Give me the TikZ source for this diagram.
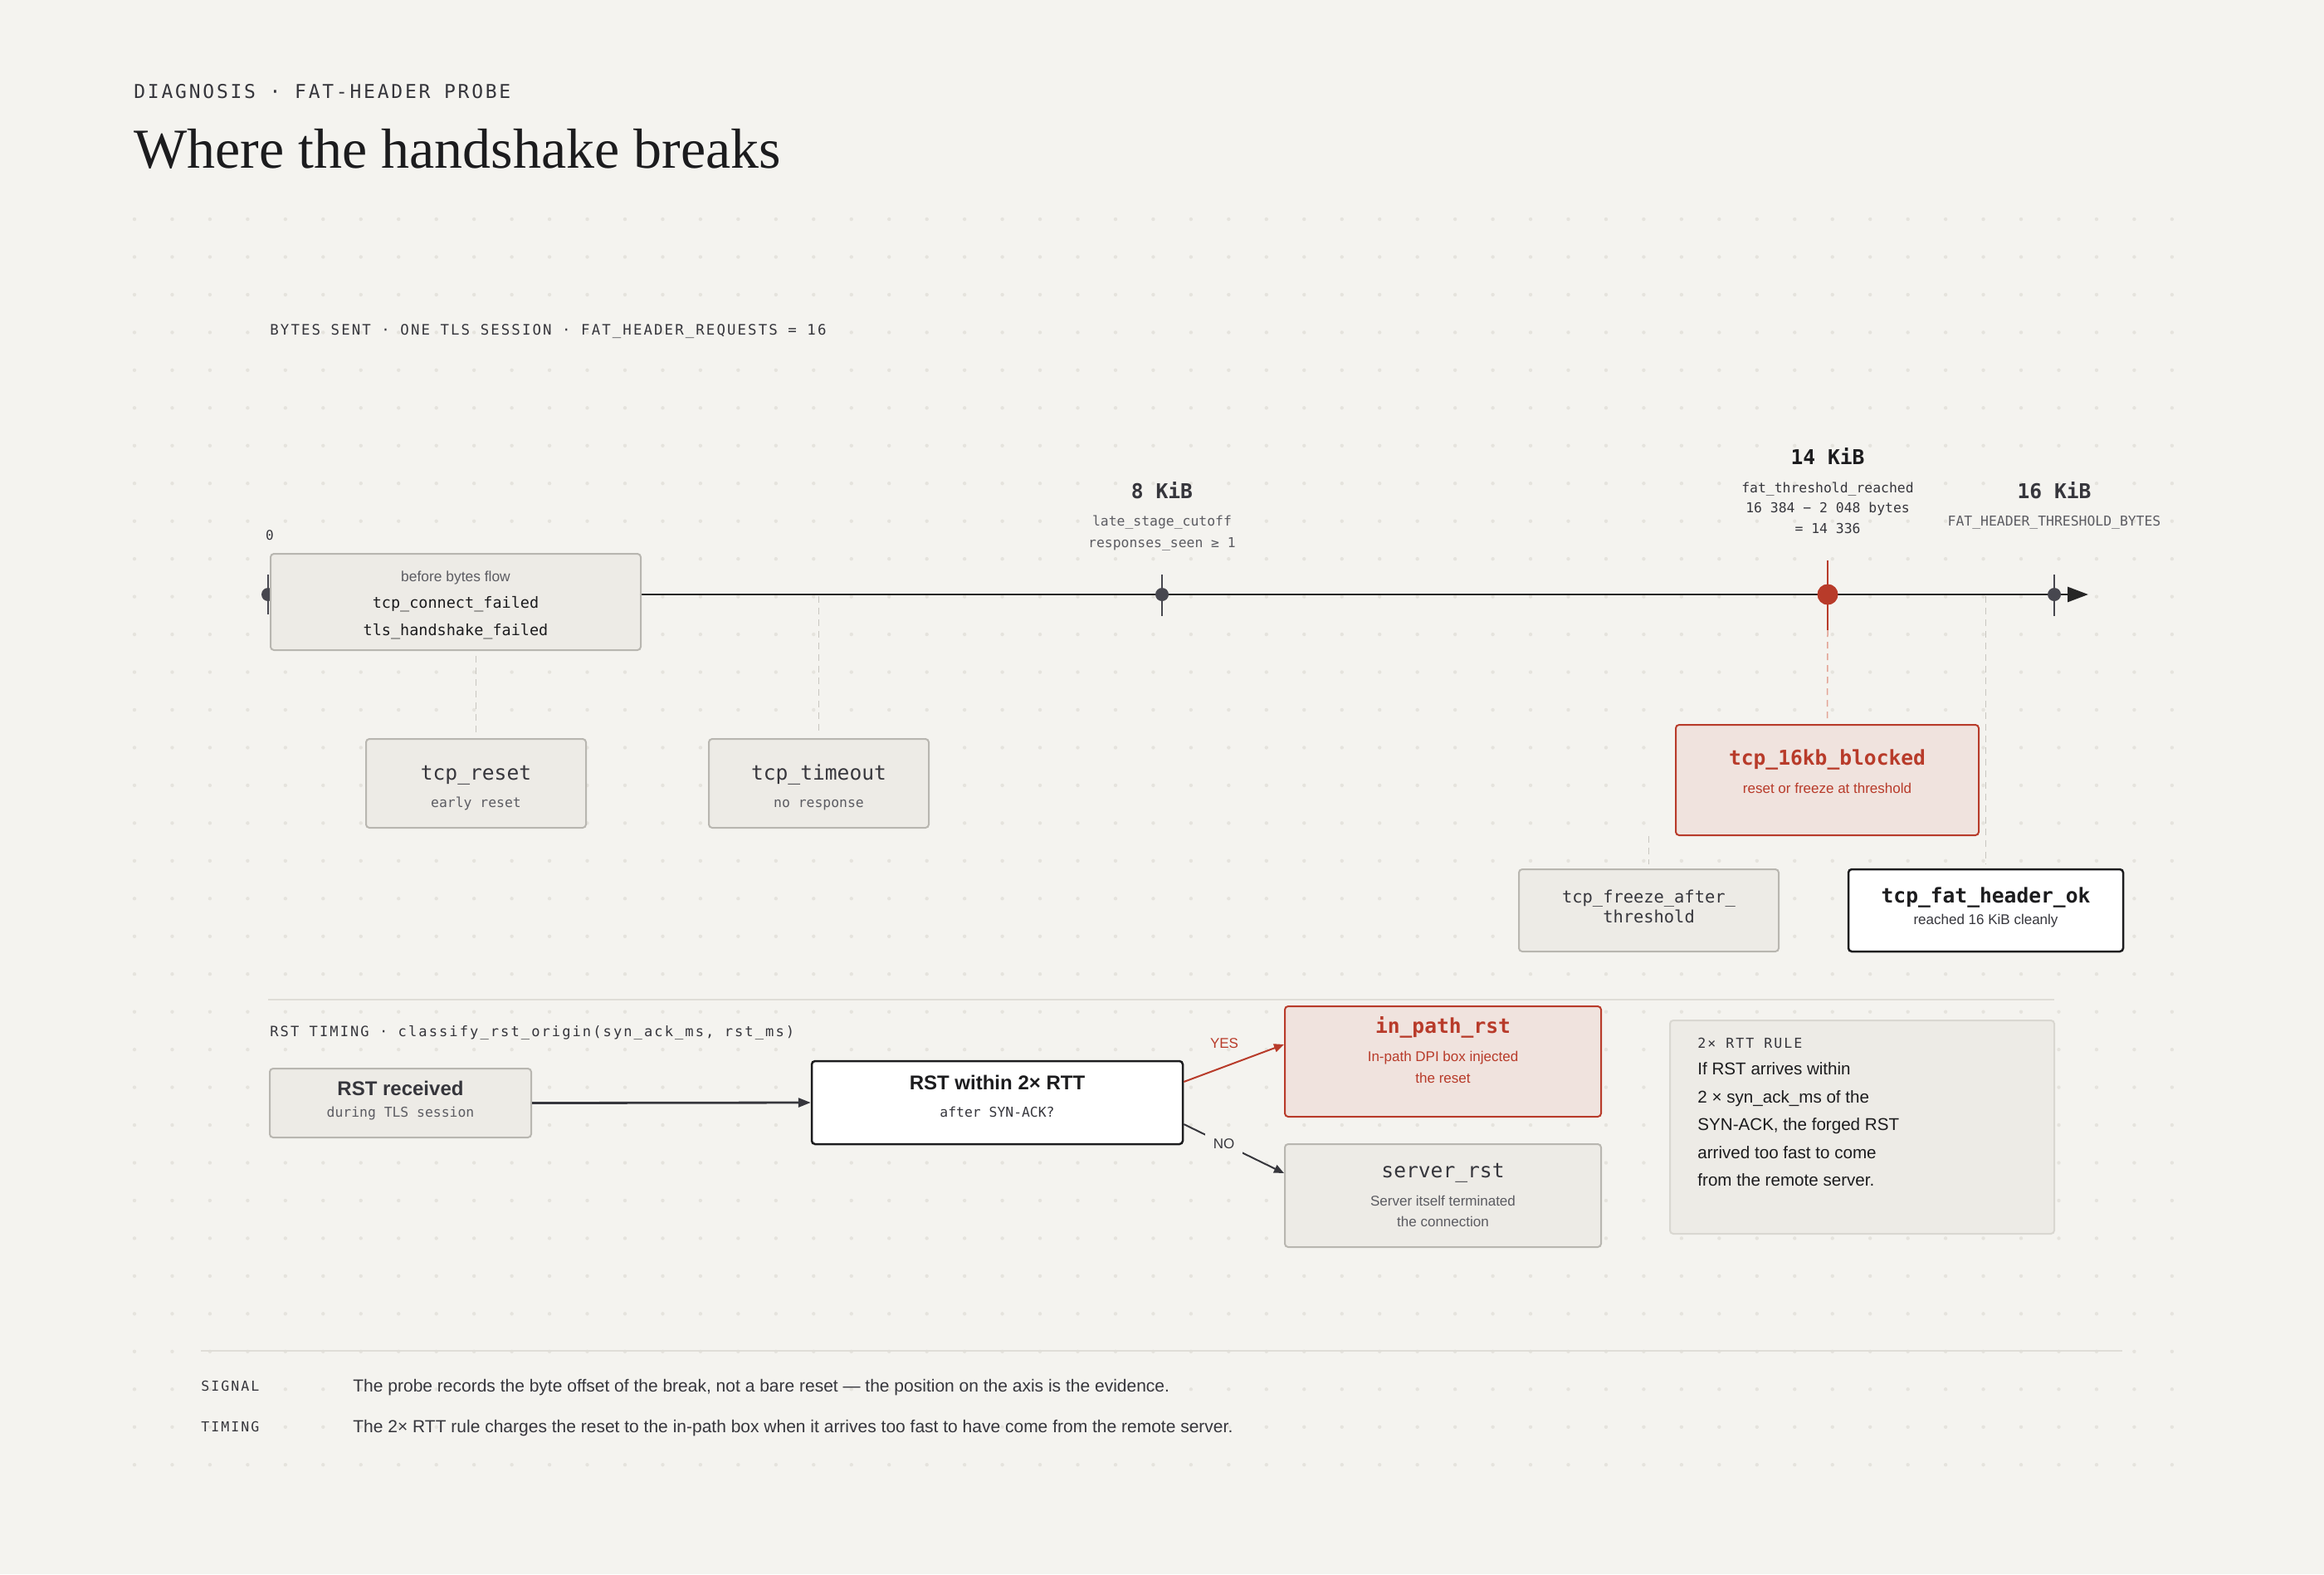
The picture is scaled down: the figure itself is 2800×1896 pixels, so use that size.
\documentclass[tikz,border=0pt]{standalone}
\usepackage{fontspec}
\usetikzlibrary{arrows.meta}
\newfontfamily\serifT{Liberation Serif}
\newfontfamily\sansT{Liberation Sans}
\newfontfamily\monoT{DejaVu Sans Mono}
\newfontfamily\monoLS[LetterSpace=12]{DejaVu Sans Mono}
\newcommand\fsz[1]{\fontsize{#1pt}{#1pt}\selectfont}
\definecolor{bg}{HTML}{F4F3EF}
\definecolor{gridc}{HTML}{E5E3DD}
\definecolor{boxfill}{HTML}{EDEBE6}
\definecolor{boxline}{HTML}{B8B6B0}
\definecolor{ruleline}{HTML}{D9D7D1}
\definecolor{ink}{HTML}{1C1C1E}
\definecolor{inktwo}{HTML}{36363C}
\definecolor{inkthree}{HTML}{5C5C62}
\definecolor{redc}{HTML}{B83B2A}
\definecolor{pinkfill}{HTML}{F0E3DE}
\definecolor{pinkdash}{HTML}{E3A496}
\definecolor{dashgray}{HTML}{C8C6C0}
\definecolor{sepline}{HTML}{DFDDD7}
\definecolor{axisc}{HTML}{262626}
\definecolor{tickc}{HTML}{47474F}
\begin{document}
\begin{tikzpicture}[x=0.5pt,y=-0.5pt,
  txt/.style={inner sep=0pt, anchor=base},
  ltxt/.style={inner sep=0pt, anchor=base west},
  gbox/.style={draw=boxline, fill=boxfill, line width=1pt, rounded corners=2pt, inner sep=0pt},
  rbox/.style={draw=redc, fill=pinkfill, line width=1pt, rounded corners=2pt, inner sep=0pt},
  wbox/.style={draw=ink, fill=white, line width=1.25pt, rounded corners=2pt, inner sep=0pt},
  dashline/.style={draw=dashgray, line width=0.75pt, dash pattern=on 4pt off 3pt},
  reddash/.style={draw=pinkdash, line width=0.75pt, dash pattern=on 4pt off 3pt},
  tickline/.style={draw=tickc, line width=0.75pt},
  nametxt/.style={txt, font=\monoT\fsz{12.3}, text=inktwo},
  subtxt/.style={txt, font=\monoT\fsz{8.2}, text=inkthree},
  smallsans/.style={txt, font=\sansT\fsz{8.5}},
]
\useasboundingbox[fill=bg] (0,0) rectangle (2800,1896);
% dot grid
\foreach \i in {0,...,54}{\foreach \j in {0,...,33}{\fill[gridc] (162+\i*45.46,264+\j*45.46) circle[radius=1.1pt];}}

% header
\node[ltxt, font=\monoLS\fsz{11.5}, text=inktwo] (kicker) at (161,118) {DIAGNOSIS · FAT-HEADER PROBE};
\node[ltxt, font=\serifT\fsz{34}, text=ink] (title) at (161,202) {Where the handshake breaks};
\node[ltxt, font=\monoLS\fsz{8.7}, text=inktwo] (axtitle) at (325,403) {BYTES SENT · ONE TLS SESSION · FAT\_HEADER\_REQUESTS = 16};

% axis
\coordinate (ax0) at (323,716);
\coordinate (axend) at (2516,716);
\coordinate (ax987) at (986.5,716);
\coordinate (ax2392) at (2392.5,716);
\draw[axisc, line width=1.4pt, -{Triangle[length=12.5pt,width=9pt]}] (ax0) -- (axend);
\draw[tickline] (323,692) -- (323,740);
\node[circle, fill=tickc, inner sep=0pt, minimum size=8pt] (dot0) at (ax0) {};
\draw[tickline] (1400,692) -- (1400,742);
\node[circle, fill=tickc, inner sep=0pt, minimum size=8pt] (dot8) at (1400,716) {};
\draw[tickline] (2475,692) -- (2475,742);
\node[circle, fill=tickc, inner sep=0pt, minimum size=8pt] (dot16) at (2475,716) {};
\draw[redc, line width=1pt] (2202,675) -- (2202,759);
\node[circle, fill=redc, inner sep=0pt, minimum size=12.5pt] (dot14) at (2202,716) {};
\coordinate (red14end) at (2202,759);

% axis labels
\node[txt, font=\monoT\fsz{8}, text=inktwo] (lbl0) at (325,650) {0};
\node[txt, font=\monoT\bfseries\fsz{12.3}, text=inktwo] (kib8) at (1400,600) {8 KiB};
\node[subtxt] (late1) at (1400,633) {late\_stage\_cutoff};
\node[subtxt] (late2) at (1400,659) {responses\_seen ≥ 1};
\node[txt, font=\monoT\bfseries\fsz{12.3}, text=ink] (kib14) at (2202,559) {14 KiB};
\node[subtxt, text=inktwo] (fat1) at (2202,593) {fat\_threshold\_reached};
\node[subtxt, text=inktwo] (fat2) at (2202,617) {16 384 − 2 048 bytes};
\node[subtxt, text=inktwo] (fat3) at (2202,642) {= 14 336};
\node[txt, font=\monoT\bfseries\fsz{12.3}, text=inktwo] (kib16) at (2475,600) {16 KiB};
\node[subtxt] (fhtb) at (2475,633) {FAT\_HEADER\_THRESHOLD\_BYTES};

% boxes of the byte axis
\node[gbox, minimum width=223pt, minimum height=58pt] (before) at (549,725) {};
\node[gbox, minimum width=132.5pt, minimum height=53.5pt] (reset) at (573.5,943.5) {};
\node[gbox, minimum width=132.5pt, minimum height=53.5pt] (timeout) at (986.5,943.5) {};
\node[rbox, minimum width=182.5pt, minimum height=66.5pt] (blocked) at (2201.5,939.5) {};
\node[gbox, minimum width=156.5pt, minimum height=49.5pt] (freeze) at (1986.5,1096.5) {};
\node[wbox, minimum width=165.5pt, minimum height=49.5pt] (okbox) at (2392.5,1096.5) {};

% dashed connectors
\draw[dashline, shorten <=3pt, shorten >=3.5pt] (before.south -| reset.north) -- (reset.north);
\draw[dashline, shorten <=1pt, shorten >=3.5pt] (ax987) -- (timeout.north);
\draw[reddash, shorten >=3pt] (red14end) -- (blocked.north);
\draw[dashline, shorten <=1pt, shorten >=2.5pt] (ax2392) -- (okbox.north);
\draw[dashline, shorten >=2.5pt] (blocked.south -| freeze.north) -- (freeze.north);

% texts in byte-axis boxes
\node[txt, font=\sansT\fsz{8.7}, text=inkthree] (beforeT) at (549,700) {before bytes flow};
\node[txt, font=\monoT\fsz{9.25}, text=ink] (connT) at (549,732) {tcp\_connect\_failed};
\node[txt, font=\monoT\fsz{9.25}, text=ink] (tlsT) at (549,765) {tls\_handshake\_failed};
\node[nametxt] (resetT) at (573.5,939) {tcp\_reset};
\node[subtxt] (resetS) at (573.5,972) {early reset};
\node[nametxt] (timeoutT) at (986.5,939) {tcp\_timeout};
\node[subtxt] (timeoutS) at (986.5,972) {no response};
\node[nametxt, font=\monoT\bfseries\fsz{12.3}, text=redc] (blockedT) at (2201.5,921) {tcp\_16kb\_blocked};
\node[smallsans, text=redc] (blockedS) at (2201.5,955) {reset or freeze at threshold};
\node[txt, font=\monoT\fsz{10.2}, text=inktwo] (freezeT1) at (1986.5,1087) {tcp\_freeze\_after\_};
\node[txt, font=\monoT\fsz{10.2}, text=inktwo] (freezeT2) at (1986.5,1111) {threshold};
\node[nametxt, font=\monoT\bfseries\fsz{12.3}, text=ink] (okT) at (2392.5,1087) {tcp\_fat\_header\_ok};
\node[smallsans, text=inktwo] (okS) at (2392.5,1113) {reached 16 KiB cleanly};

% separator
\draw[sepline, line width=1pt] (323,1204) -- (2475,1204);
\node[ltxt, font=\monoLS\fsz{8.55}, text=inktwo] (rsttitle) at (325,1248) {RST TIMING · classify\_rst\_origin(syn\_ack\_ms, rst\_ms)};

% RST timing flow
\node[gbox, minimum width=157.5pt, minimum height=41.5pt] (rstrecv) at (482.5,1328.5) {};
\node[wbox, minimum width=223.5pt, minimum height=50pt] (decision) at (1201.5,1328) {};
\node[rbox, minimum width=190.5pt, minimum height=66.5pt] (inpath) at (1738.5,1278.5) {};
\node[gbox, minimum width=190.5pt, minimum height=62pt] (server) at (1738.5,1440) {};
\node[draw=ruleline, fill=boxfill, line width=1pt, rounded corners=2pt, inner sep=0pt, minimum width=231.5pt, minimum height=128.5pt] (rulebox) at (2243.5,1357.5) {};

\draw[draw=inktwo, line width=1.4pt, -{Triangle[length=7.5pt,width=5.5pt]}] (rstrecv.east) -- (decision.west);
\draw[draw=redc, line width=1pt, -{Triangle[length=6pt,width=5pt]}] ([yshift=12.5pt]decision.east) -- ([yshift=10.25pt]inpath.west);
\draw[draw=inktwo, line width=1pt, -{Triangle[length=6pt,width=5pt]}] ([yshift=-13pt]decision.east) -- node[pos=0.4, fill=bg, inner sep=5pt, font=\sansT\fsz{8.5}, text=inktwo] (nolbl) {NO} ([yshift=13.5pt]server.west);
\node[txt, font=\sansT\fsz{8.5}, text=redc] (yeslbl) at (1475,1262) {YES};

\node[txt, font=\sansT\bfseries\fsz{12}, text=inktwo] (rstrecvT) at (482.5,1319) {RST received};
\node[subtxt] (rstrecvS) at (482.5,1345) {during TLS session};
\node[txt, font=\sansT\bfseries\fsz{12}, text=ink] (decisionT) at (1201.5,1312) {RST within 2× RTT};
\node[subtxt, text=inktwo] (decisionS) at (1201.5,1345) {after SYN-ACK?};
\node[nametxt, font=\monoT\bfseries\fsz{12.3}, text=redc] (inpathT) at (1738.5,1244) {in\_path\_rst};
\node[smallsans, text=redc] (inpathS1) at (1738.5,1278) {In-path DPI box injected};
\node[smallsans, text=redc] (inpathS2) at (1738.5,1304) {the reset};
\node[nametxt] (serverT) at (1738.5,1418) {server\_rst};
\node[smallsans, text=inkthree] (serverS1) at (1738.5,1452) {Server itself terminated};
\node[smallsans, text=inkthree] (serverS2) at (1738.5,1477) {the connection};

\node[ltxt, font=\monoLS\fsz{8.3}, text=inktwo] (ruleH) at (2045,1262) {2× RTT RULE};
\node[ltxt, font=\sansT\fsz{10.3}, text=ink] (rule1) at (2045,1294) {If RST arrives within};
\node[ltxt, font=\sansT\fsz{10.3}, text=ink] (rule2) at (2045,1328) {2 × syn\_ack\_ms of the};
\node[ltxt, font=\sansT\fsz{10.3}, text=ink] (rule3) at (2045,1361) {SYN-ACK, the forged RST};
\node[ltxt, font=\sansT\fsz{10.3}, text=ink] (rule4) at (2045,1395) {arrived too fast to come};
\node[ltxt, font=\sansT\fsz{10.3}, text=ink] (rule5) at (2045,1428) {from the remote server.};

% footer
\draw[sepline, line width=1pt] (242,1627) -- (2557,1627);
\node[ltxt, font=\monoLS\fsz{8.3}, text=inktwo] (sigL) at (242,1675) {SIGNAL};
\node[ltxt, font=\sansT\fsz{10.5}, text=inktwo] (sigT) at (425,1676) {The probe records the byte offset of the break, not a bare reset — the position on the axis is the evidence.};
\node[ltxt, font=\monoLS\fsz{8.3}, text=inktwo] (timL) at (242,1724) {TIMING};
\node[ltxt, font=\sansT\fsz{10.5}, text=inktwo] (timT) at (425,1725) {The 2× RTT rule charges the reset to the in-path box when it arrives too fast to have come from the remote server.};
\end{tikzpicture}
\end{document}
